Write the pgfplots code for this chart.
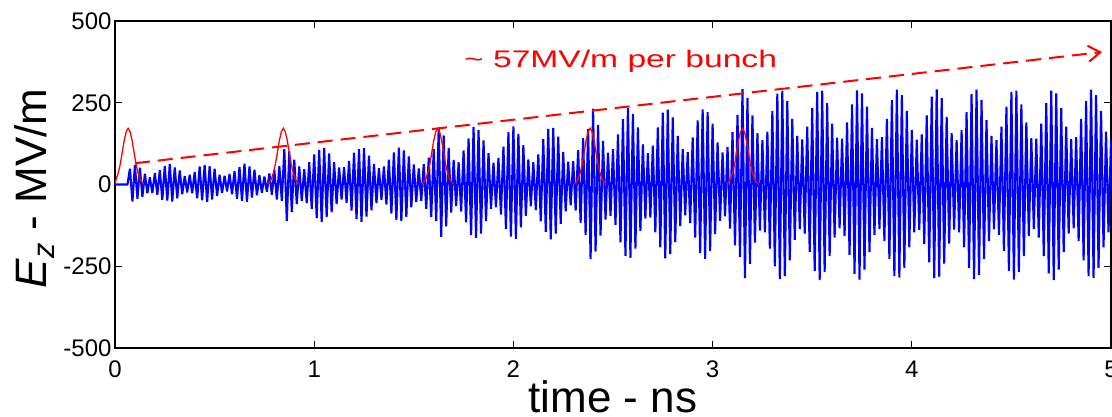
\documentclass[border=0pt]{standalone}
\usepackage{pgfplots}
\pgfplotsset{compat=1.18}
\usepackage{fontspec}
\setmainfont{Liberation Sans}
\usetikzlibrary{arrows.meta}

\begin{document}
\begin{tikzpicture}
\begin{axis}[
    width=996bp, height=327bp, scale only axis,
    xmin=0, xmax=5, ymin=-500, ymax=500,
    xtick={0,1,2,3,4,5},
    ytick={-500,-250,0,250,500},
    tick align=inside,
    major tick length=7bp,
    axis line style={line width=1.2bp},
    every tick/.style={black, line width=1.2bp},
    ticklabel style={font=\fontsize{24bp}{28bp}\selectfont},
    xticklabel style={yshift=-9bp},
    /pgf/number format/assume math mode=true,
    xlabel={time - ns},
    ylabel={\textit{E}\textsubscript{\textit{z}} - MV/m},
    label style={font=\fontsize{44bp}{50bp}\selectfont},
    xlabel style={at={(axis description cs:0.5,-0.196)}, anchor=base},
    ylabel style={at={(axis description cs:-0.0683,0.488)}, anchor=base},
]

% Ez wake field
\addplot[blue, line width=2.1bp, line join=bevel] coordinates {
(0,0) (0.0625,0)
(0.075,48) (0.0875,-52) (0.1,60) (0.1125,-44) (0.125,51) (0.1375,-38) (0.15,33) (0.1625,-27)
(0.175,22) (0.1875,-26) (0.2,35) (0.2125,-31) (0.225,44) (0.2375,-47) (0.25,57) (0.2625,-49)
(0.275,63) (0.2875,-52) (0.3,52) (0.3125,-42) (0.325,43) (0.3375,-30) (0.35,26) (0.3625,-24)
(0.375,30) (0.3875,-27) (0.4,38) (0.4125,-42) (0.425,55) (0.4375,-48) (0.45,60) (0.4625,-53)
(0.475,56) (0.4875,-46) (0.5,48) (0.5125,-35) (0.525,30) (0.5375,-26) (0.55,27) (0.5625,-21)
(0.575,32) (0.5875,-30) (0.6,41) (0.6125,-44) (0.625,54) (0.6375,-50) (0.65,64) (0.6625,-53)
(0.675,55) (0.6875,-40) (0.7,45) (0.7125,-33) (0.725,28) (0.7375,-25) (0.75,24) (0.7625,-22)
(0.775,34) (0.7875,-31) (0.8,44) (0.8125,-46) (0.825,56) (0.8375,-50)
(0.85,108) (0.8625,-112) (0.875,101) (0.8875,-84) (0.9,76) (0.9125,-60) (0.925,55) (0.9375,-50)
(0.95,47) (0.9625,-57) (0.975,68) (0.9875,-74) (1.0,92) (1.0125,-103) (1.025,106) (1.0375,-115)
(1.05,112) (1.0625,-100) (1.075,95) (1.0875,-85) (1.1,68) (1.1125,-60) (1.125,52) (1.1375,-46)
(1.15,53) (1.1625,-56) (1.175,72) (1.1875,-80) (1.2,97) (1.2125,-106) (1.225,108) (1.2375,-114)
(1.25,111) (1.2625,-98) (1.275,88) (1.2875,-79) (1.3,63) (1.3125,-57) (1.325,50) (1.3375,-47)
(1.35,55) (1.3625,-61) (1.375,76) (1.3875,-89) (1.4,98) (1.4125,-109) (1.425,113) (1.4375,-112)
(1.45,104) (1.4625,-99) (1.475,86) (1.4875,-70) (1.5,61) (1.5125,-54) (1.525,49) (1.5375,-50)
(1.55,62) (1.5625,-74) (1.575,82) (1.5875,-99) (1.6,108) (1.6125,-112)
(1.625,174) (1.6375,-160) (1.65,150) (1.6625,-128) (1.675,112) (1.6875,-86) (1.7,75) (1.7125,-66)
(1.725,68) (1.7375,-83) (1.75,104) (1.7625,-116) (1.775,141) (1.7875,-155) (1.8,176) (1.8125,-163)
(1.825,166) (1.8375,-150) (1.85,135) (1.8625,-112) (1.875,96) (1.8875,-74) (1.9,67) (1.9125,-70)
(1.925,81) (1.9375,-92) (1.95,116) (1.9625,-136) (1.975,160) (1.9875,-159) (2.0,178) (2.0125,-166)
(2.025,155) (2.0375,-131) (2.05,120) (2.0625,-96) (2.075,77) (2.0875,-67) (2.1,68) (2.1125,-78)
(2.125,92) (2.1375,-113) (2.15,139) (2.1625,-145) (2.175,170) (2.1875,-168) (2.2,173) (2.2125,-150)
(2.225,146) (2.2375,-120) (2.25,100) (2.2625,-82) (2.275,70) (2.2875,-64) (2.3,71) (2.3125,-80)
(2.325,105) (2.3375,-117) (2.35,142) (2.3625,-155) (2.375,170)
(2.3875,-228) (2.4,232) (2.4125,-205) (2.425,182) (2.4375,-156) (2.45,133) (2.4625,-107) (2.475,97)
(2.4875,-96) (2.5,108) (2.5125,-123) (2.525,153) (2.5375,-177) (2.55,200) (2.5625,-218) (2.575,234)
(2.5875,-224) (2.6,216) (2.6125,-196) (2.625,175) (2.6375,-142) (2.65,123) (2.6625,-104) (2.675,96)
(2.6875,-101) (2.7,119) (2.7125,-146) (2.725,175) (2.7375,-192) (2.75,220) (2.7625,-226) (2.775,229)
(2.7875,-213) (2.8,205) (2.8125,-176) (2.825,149) (2.8375,-127) (2.85,108) (2.8625,-94) (2.875,99)
(2.8875,-118) (2.9,144) (2.9125,-162) (2.925,196) (2.9375,-210) (2.95,230) (2.9625,-227) (2.975,221)
(2.9875,-204) (3.0,186) (3.0125,-152) (3.025,129) (3.0375,-111) (3.05,98) (3.0625,-97) (3.075,115)
(3.0875,-135) (3.1,160) (3.1125,-186) (3.125,213) (3.1375,-222)
(3.15,292) (3.1625,-286) (3.175,265) (3.1875,-243) (3.2,211) (3.2125,-178) (3.225,157) (3.2375,-141)
(3.25,136) (3.2625,-146) (3.275,162) (3.2875,-196) (3.3,225) (3.3125,-250) (3.325,278) (3.3375,-289)
(3.35,286) (3.3625,-280) (3.375,255) (3.3875,-232) (3.4,201) (3.4125,-169) (3.425,149) (3.4375,-136)
(3.45,138) (3.4625,-150) (3.475,177) (3.4875,-207) (3.5,234) (3.5125,-264) (3.525,283) (3.5375,-292)
(3.55,287) (3.5625,-268) (3.575,249) (3.5875,-219) (3.6,186) (3.6125,-162) (3.625,143) (3.6375,-134)
(3.65,140) (3.6625,-158) (3.675,190) (3.6875,-215) (3.7,245) (3.7125,-273) (3.725,288) (3.7375,-291)
(3.75,279) (3.7625,-260) (3.775,238) (3.7875,-207) (3.8,173) (3.8125,-154) (3.825,139) (3.8375,-136)
(3.85,145) (3.8625,-173) (3.875,201) (3.8875,-228) (3.9,259) (3.9125,-280) (3.925,290) (3.9375,-285)
(3.95,273) (3.9625,-255) (3.975,225) (3.9875,-192) (4.0,166) (4.0125,-146) (4.025,137) (4.0375,-139)
(4.05,153) (4.0625,-182) (4.075,211) (4.0875,-238) (4.1,269) (4.1125,-286) (4.125,291) (4.1375,-282)
(4.15,265) (4.1625,-242) (4.175,207) (4.1875,-181) (4.2,157) (4.2125,-138) (4.225,136) (4.2375,-146)
(4.25,166) (4.2625,-192) (4.275,221) (4.2875,-256) (4.3,277) (4.3125,-289) (4.325,290) (4.3375,-276)
(4.35,259) (4.3625,-228) (4.375,197) (4.3875,-173) (4.4,149) (4.4125,-137) (4.425,136) (4.4375,-154)
(4.45,177) (4.4625,-203) (4.475,238) (4.4875,-264) (4.5,283) (4.5125,-291) (4.525,287) (4.5375,-268)
(4.55,245) (4.5625,-219) (4.575,190) (4.5875,-158) (4.6,142) (4.6125,-136) (4.625,140) (4.6375,-162)
(4.65,186) (4.6625,-219) (4.675,249) (4.6875,-272) (4.7,287) (4.7125,-292) (4.725,279) (4.7375,-260)
(4.75,234) (4.7625,-207) (4.775,177) (4.7875,-150) (4.8,139) (4.8125,-134) (4.825,145) (4.8375,-173)
(4.85,201) (4.8625,-232) (4.875,255) (4.8875,-280) (4.9,290) (4.9125,-286) (4.925,273) (4.9375,-255)
(4.95,225) (4.9625,-192) (4.975,162) (4.9875,-146) (5.0,137)
};

% drive bunches
\addplot[red, line width=1.3bp] coordinates {
(0,0) (0.006,17) (0.016,35) (0.026,61) (0.036,97) (0.046,134) (0.056,161) (0.066,172)
(0.076,161) (0.086,134) (0.096,97) (0.106,61) (0.116,35) (0.126,17) (0.136,7) (0.146,2)
};
\addplot[red, line width=1.3bp] coordinates {
(0.765,2) (0.775,7) (0.785,17) (0.795,35) (0.805,61) (0.815,97) (0.825,134) (0.835,161) (0.845,172)
(0.855,161) (0.865,134) (0.875,97) (0.885,61) (0.895,35) (0.905,17) (0.915,7) (0.925,2)
};
\addplot[red, line width=1.3bp] coordinates {
(1.54,2) (1.55,7) (1.56,17) (1.57,35) (1.58,61) (1.59,97) (1.60,134) (1.61,161) (1.62,172)
(1.63,161) (1.64,134) (1.65,97) (1.66,61) (1.67,35) (1.68,17) (1.69,7) (1.70,2)
};
\addplot[red, line width=1.3bp] coordinates {
(2.305,2) (2.315,7) (2.325,17) (2.335,35) (2.345,61) (2.355,97) (2.365,134) (2.375,161) (2.385,172)
(2.395,161) (2.405,134) (2.415,97) (2.425,61) (2.435,35) (2.445,17) (2.455,7) (2.465,2)
};
\addplot[red, line width=1.3bp] coordinates {
(3.07,2) (3.08,7) (3.09,17) (3.10,35) (3.11,61) (3.12,97) (3.13,134) (3.14,161) (3.15,172)
(3.16,161) (3.17,134) (3.18,97) (3.19,61) (3.20,35) (3.21,17) (3.22,7) (3.23,2)
};

% growth per bunch
\addplot[red, line width=2bp, dash pattern=on 15bp off 8bp,
    -{Straight Barb[length=12bp,width=16bp,line width=2bp]}]
    coordinates {(0.1,65) (4.955,405)};
\node[text=red, anchor=base, font=\fontsize{24bp}{28bp}\selectfont]
    at (axis cs:2.538,357) {\scalebox{1.4}[1]{\textasciitilde\ 57MV/m per bunch}};

\coordinate (sw) at (rel axis cs:0,0);
\coordinate (ne) at (rel axis cs:1,1);
\end{axis}
\pgfresetboundingbox
\path[use as bounding box] ([shift={(-115bp,-68bp)}]sw) rectangle ([shift={(1bp,21bp)}]ne);
\end{tikzpicture}
\end{document}
